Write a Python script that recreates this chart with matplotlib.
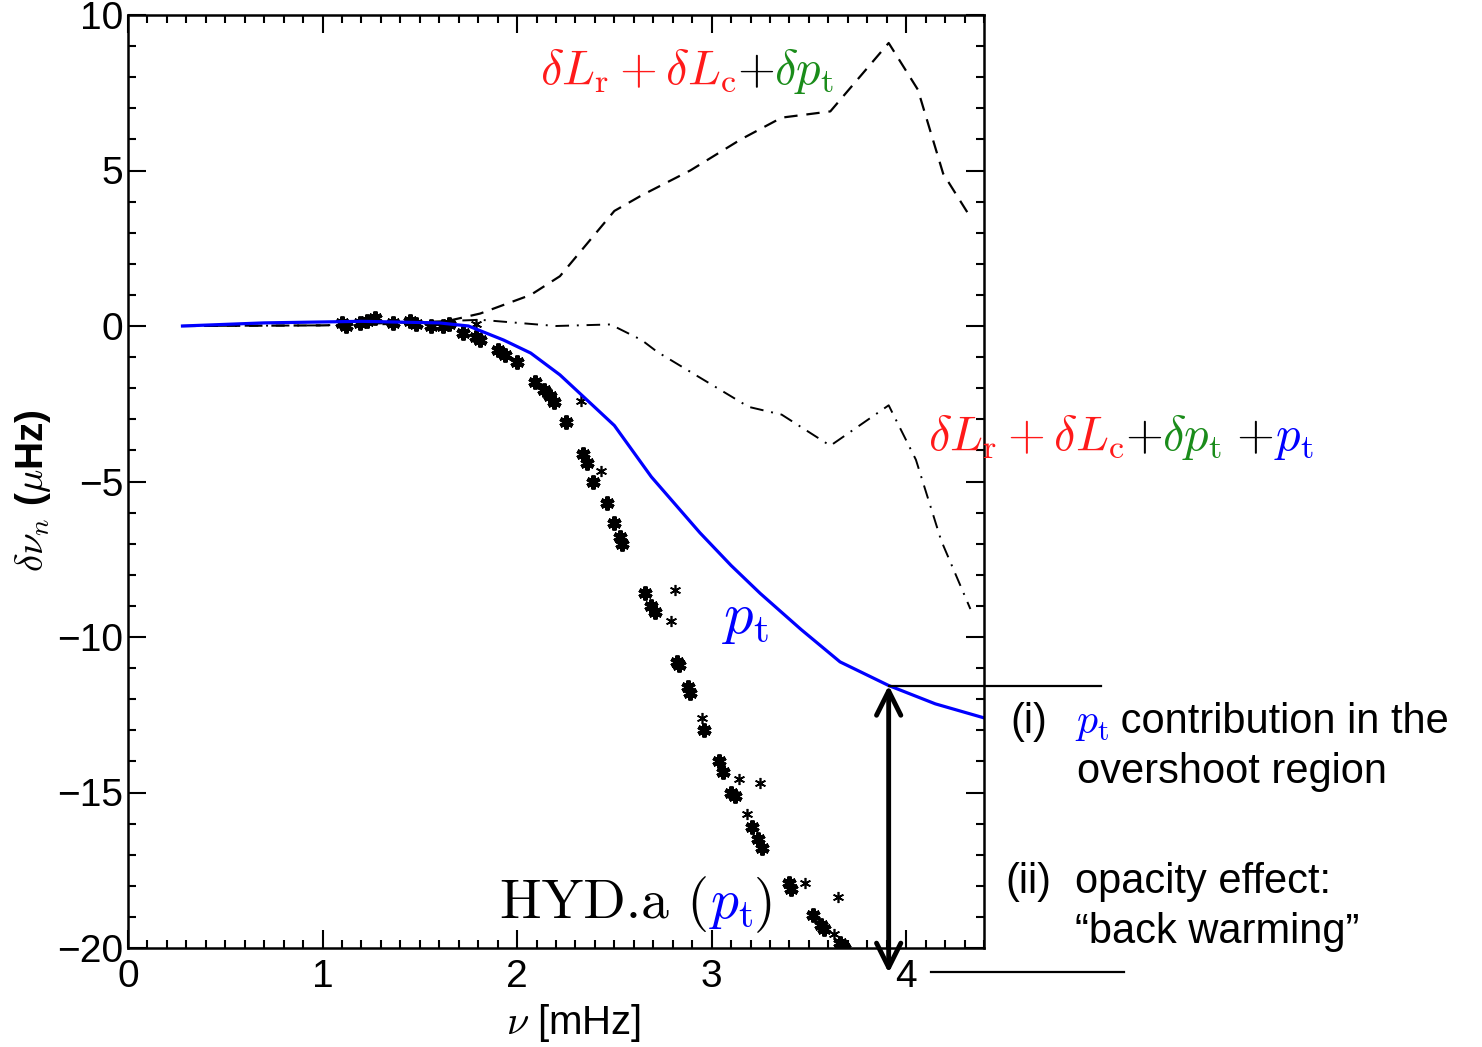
import matplotlib
matplotlib.use('Agg')
import matplotlib.pyplot as plt
from matplotlib import transforms

plt.rcParams['font.family'] = ['Liberation Sans', 'DejaVu Sans']
plt.rcParams['mathtext.fontset'] = 'cm'

# p_t curve (blue)
nu_pt = [0.28, 0.7, 1.2, 1.6, 1.75, 1.93, 2.07, 2.22, 2.38, 2.5, 2.69, 2.94, 3.1, 3.25, 3.46, 3.66, 3.91, 4.15, 4.4]
dnu_pt = [0.0, 0.1, 0.15, 0.1, 0.0, -0.45, -0.87, -1.57, -2.5, -3.2, -4.85, -6.65, -7.7, -8.6, -9.76, -10.8, -11.56, -12.15, -12.6]

# dLr + dLc + dpt (dashed)
nu_a = [0.28, 1.0, 1.6, 1.81, 2.07, 2.22, 2.38, 2.5, 2.64, 2.89, 3.15, 3.36, 3.61, 3.91, 4.06, 4.19, 4.32]
dnu_a = [0.0, 0.02, 0.1, 0.4, 1.0, 1.6, 2.8, 3.7, 4.2, 5.0, 6.0, 6.7, 6.9, 9.1, 7.6, 4.9, 3.6]

# dLr + dLc + dpt + pt (dash-dot)
nu_b = [0.28, 1.0, 1.6, 1.81, 2.2, 2.48, 2.64, 2.72, 2.94, 3.19, 3.36, 3.61, 3.91, 4.05, 4.18, 4.33]
dnu_b = [0.0, 0.02, 0.15, 0.2, 0.0, 0.05, -0.45, -0.83, -1.66, -2.6, -2.85, -3.85, -2.55, -4.3, -6.9, -9.1]

# observed differences (dense clusters and single points)
obs_x = [1.10, 1.12, 1.19, 1.23, 1.27, 1.36, 1.45, 1.48, 1.56, 1.62, 1.65, 1.72, 1.79, 1.81,
         1.90, 1.94, 2.0, 2.09, 2.14, 2.17, 2.19, 2.25, 2.34, 2.36, 2.39, 2.46, 2.50, 2.53,
         2.54, 2.66, 2.69, 2.71, 2.82, 2.83, 2.88, 2.89, 2.96, 3.04, 3.06, 3.10, 3.12, 3.21,
         3.24, 3.26, 3.40, 3.41, 3.52, 3.56, 3.58, 3.66, 3.68]
obs_y = [0.1, 0.0, 0.1, 0.15, 0.25, 0.1, 0.15, 0.05, 0.0, 0.0, 0.05, -0.22, -0.35, -0.45,
         -0.77, -0.93, -1.15, -1.8, -2.05, -2.25, -2.45, -3.1, -4.1, -4.4, -5.0, -5.7, -6.35, -6.8,
         -7.0, -8.6, -9.0, -9.2, -10.8, -10.9, -11.6, -11.8, -13.0, -14.0, -14.35, -15.0, -15.1, -16.1,
         -16.5, -16.8, -17.9, -18.1, -18.95, -19.25, -19.4, -19.85, -20.0]
single_x = [1.79, 2.33, 2.43, 2.81, 2.79, 2.95, 3.14, 3.25, 3.18, 3.48, 3.65, 3.63]
single_y = [0.05, -2.4, -4.65, -8.5, -9.5, -12.6, -14.55, -14.7, -15.7, -17.9, -18.35, -19.55]

W, H = 1482, 1047
fig = plt.figure(figsize=(W / 100, H / 100), dpi=100)
ax = fig.add_axes([128 / W, 1 - 948 / H, (984 - 128) / W, (948 - 15) / H])

ax.plot(nu_a, dnu_a, color='black', lw=1.6, ls=(0, (6, 4)))
ax.plot(nu_b, dnu_b, color='black', lw=1.4, ls=(0, (7, 4, 1, 4)))
ax.plot(obs_x, obs_y, ls='none', marker=(6, 2, 0), ms=10, mew=3, color='black')
ax.plot(single_x, single_y, ls='none', marker=(6, 2, 0), ms=8, mew=1.2, color='black')
ax.plot(nu_pt, dnu_pt, color='#0000ff', lw=2.3)

ax.set_xlim(0, 4.4)
ax.set_ylim(-20, 10)
ax.set_xticks([0, 1, 2, 3, 4])
ax.set_yticks([-20, -15, -10, -5, 0, 5, 10])
ax.set_yticklabels(['\u221220', '\u221215', '\u221210', '\u22125', '0', '5', '10'])
ax.minorticks_on()
ax.xaxis.set_minor_locator(matplotlib.ticker.MultipleLocator(0.1))
ax.yaxis.set_minor_locator(matplotlib.ticker.MultipleLocator(1))
ax.tick_params(which='both', direction='in', top=True, right=True, width=1.5, labelsize=28)
ax.tick_params(which='major', length=13)
ax.tick_params(which='minor', length=6)
ax.tick_params(axis='x', pad=8)
for s in ax.spines.values():
    s.set_linewidth(1.8)

ax.set_xlabel(r'$\nu$ [mHz]', fontsize=29)
ax.xaxis.set_label_coords(0.52, -0.058)
ax.set_ylabel(r'$\delta\nu_n$ ($\mu$Hz)', fontsize=28, fontweight='bold')
ax.yaxis.set_label_coords(-0.088, 0.49)

# double arrow and guide lines
ax.annotate('', xy=(3.91, -20.8), xytext=(3.91, -11.56), annotation_clip=False,
            arrowprops=dict(arrowstyle='<->,head_length=0.7,head_width=0.35', color='black',
                            lw=3.5, mutation_scale=25, shrinkA=0, shrinkB=0))
ax.plot([3.91, 5.0], [-11.56, -11.56], color='black', lw=1.6, clip_on=False)
ax.plot([4.13, 5.12], [-20.77, -20.77], color='black', lw=1.6, clip_on=False)

renderer = fig.canvas.get_renderer()


def color_text(px, py, parts, size, family=None):
    t = fig.transFigure
    x, y = px / W, 1 - py / H
    for s, c in parts:
        kw = {}
        if family and not s.startswith('$'):
            kw['family'] = family
        txt = fig.text(x, y, s, color=c, transform=t, fontsize=size, va='baseline', **kw)
        ex = txt.get_window_extent(renderer)
        t = transforms.offset_copy(txt.get_transform(), fig=fig, x=ex.width, units='dots')


red, green, blue = '#ff1a1a', '#1a8c1a', '#0000ff'
color_text(540, 84, [(r'$\delta L_\mathrm{r}+\delta L_\mathrm{c}$', red), (r'$+$', 'black'),
                     (r'$\delta p_\mathrm{t}$', green)], 35)
color_text(928, 450, [(r'$\delta L_\mathrm{r}+\delta L_\mathrm{c}$', red), (r'$+$', 'black'),
                      (r'$\delta p_\mathrm{t}$', green), (r'$\,+$', 'black'),
                      (r'$p_\mathrm{t}$', blue)], 35)
color_text(722, 633, [(r'$p_\mathrm{t}$', blue)], 42)
color_text(500, 918, [('HYD.a (', 'black'), (r'$p_\mathrm{t}$', blue),
                      (')', 'black')], 40, family='cmr10')

color_text(1010, 733, [('(i)', 'black')], 30)
color_text(1075, 733, [(r'$p_\mathrm{t}$', blue), (' contribution in the', 'black')], 30)
color_text(1077, 783, [('overshoot region', 'black')], 30)
color_text(1005, 893, [('(ii)', 'black')], 30)
color_text(1075, 893, [('opacity effect:', 'black')], 30)
color_text(1075, 943, [('\u201cback warming\u201d', 'black')], 30)

fig.savefig('out.png', dpi=100)
